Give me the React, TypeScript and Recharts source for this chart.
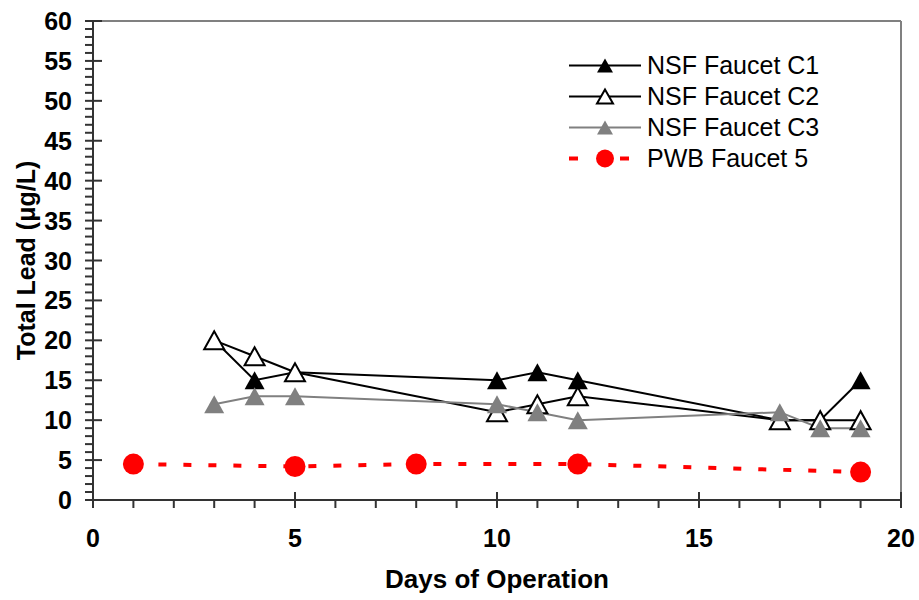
import React from "react";
import {
  LineChart,
  Line,
  XAxis,
  YAxis,
  Legend,
  ReferenceLine,
  Label,
} from "recharts";

// days of operation and total lead (ug/L)
const nsfDays = [3, 4, 5, 10, 11, 12, 17, 18, 19];
const nsfC1 = [20, 15, 16, 15, 16, 15, 10, 10, 15];
const nsfC2 = [20, 18, 16, 11, 12, 13, 10, 10, 10];
const nsfC3 = [12, 13, 13, 12, 11, 10, 11, 9, 9];
const pwbDays = [1, 5, 8, 12, 19];
const pwb5 = [4.5, 4.2, 4.5, 4.5, 3.5];

const xTicks = Array.from({ length: 21 }, (_, i) => i);
const yTicks = Array.from({ length: 61 }, (_, i) => i);

const FONT = "'Liberation Sans', Arial, sans-serif";
const AXIS = "#333";

const toPoints = (xs: number[], ys: number[]) =>
  xs.map((x, i) => ({ x, y: ys[i] }));

const series = [
  { name: "NSF Faucet C1", data: toPoints(nsfDays, nsfC1), stroke: "#000", fill: "#000", mark: "tri" },
  { name: "NSF Faucet C2", data: toPoints(nsfDays, nsfC2), stroke: "#000", fill: "#fff", mark: "tri" },
  { name: "NSF Faucet C3", data: toPoints(nsfDays, nsfC3), stroke: "#808080", fill: "#808080", mark: "tri" },
  { name: "PWB Faucet 5", data: toPoints(pwbDays, pwb5), stroke: "#ff0000", fill: "#ff0000", mark: "dot" },
];

const triangle = (cx: number, cy: number, fill: string, outline: boolean, s = 10) => (
  <polygon
    points={`${cx},${cy - s + 1} ${cx - s},${cy + s - 1} ${cx + s},${cy + s - 1}`}
    fill={fill}
    stroke={outline ? "#000" : "none"}
    strokeWidth={2}
    strokeLinejoin="miter"
  />
);

const XTick = (props: any) => {
  const { x, y, payload } = props;
  const major = payload.value % 5 === 0;
  return (
    <g>
      <line x1={x} x2={x} y1={major ? y - 8 : y} y2={y + 8} stroke={AXIS} strokeWidth={2} />
      {major && (
        <text x={x} y={y + 47} textAnchor="middle" fontFamily={FONT} fontWeight="bold" fontSize={25} fill="#000">
          {payload.value}
        </text>
      )}
    </g>
  );
};

const YTick = (props: any) => {
  const { x, y, payload } = props;
  const major = payload.value % 5 === 0;
  return (
    <g>
      <line x1={x - 8} x2={major ? x + 9 : x} y1={y} y2={y} stroke={AXIS} strokeWidth={2} />
      {major && (
        <text x={x - 21} y={y} dy="0.36em" textAnchor="end" fontFamily={FONT} fontWeight="bold" fontSize={25} fill="#000">
          {payload.value}
        </text>
      )}
    </g>
  );
};

const LegendBox = () => (
  <div style={{ fontFamily: FONT, fontSize: 25, color: "#000" }}>
    {series.map((s) => (
      <div key={s.name} style={{ display: "flex", alignItems: "center", height: 31 }}>
        <svg width={82} height={31}>
          {s.mark === "dot" ? (
            <g>
              <line x1={4} x2={13} y1={15.5} y2={15.5} stroke={s.stroke} strokeWidth={4} />
              <line x1={55} x2={64} y1={15.5} y2={15.5} stroke={s.stroke} strokeWidth={4} />
              <circle cx={40} cy={15.5} r={9} fill={s.fill} />
            </g>
          ) : (
            <g>
              <line x1={4} x2={76} y1={15.5} y2={15.5} stroke={s.stroke} strokeWidth={2} />
              {triangle(40, 15.5, s.fill, s.fill === "#fff", 8)}
            </g>
          )}
        </svg>
        <span style={{ lineHeight: "31px" }}>{s.name}</span>
      </div>
    ))}
  </div>
);

const YTitle = (props: any) => {
  const vb = props.viewBox || { x: 0, y: 21, width: 93, height: 479 };
  const cx = vb.x + 26;
  const cy = vb.y + vb.height / 2;
  return (
    <text
      x={cx}
      y={cy}
      transform={`rotate(-90, ${cx}, ${cy})`}
      textAnchor="middle"
      dy="0.36em"
      fontFamily={FONT}
      fontWeight="bold"
      fontSize={25}
      fill="#000"
    >
      Total Lead (μg/L)
    </text>
  );
};

const App = () => {
  return (
    <div style={{ position: "absolute", left: 0, top: 0, background: "#fff" }}>
      <LineChart width={919} height={600} margin={{ top: 21, right: 18, left: 0, bottom: 0 }}>
        <XAxis
          dataKey="x"
          type="number"
          domain={[0, 20]}
          ticks={xTicks}
          interval={0}
          height={100}
          tickSize={0}
          tickMargin={0}
          tick={<XTick />}
          tickLine={false}
          axisLine={{ stroke: AXIS, strokeWidth: 2 }}
          allowDuplicatedCategory={false}
        >
          <Label
            value="Days of Operation"
            position="insideBottom"
            offset={12}
            style={{ fontFamily: FONT, fontWeight: "bold", fontSize: 26, fill: "#000" }}
          />
        </XAxis>
        <YAxis
          type="number"
          domain={[0, 60]}
          ticks={yTicks}
          interval={0}
          width={93}
          tickSize={0}
          tickMargin={0}
          tick={<YTick />}
          tickLine={false}
          axisLine={{ stroke: AXIS, strokeWidth: 2 }}
        >
          <Label content={<YTitle />} />
        </YAxis>
        <ReferenceLine y={60} stroke="#808080" strokeWidth={2} />
        <ReferenceLine x={20} stroke="#808080" strokeWidth={2} />
        <Legend
          layout="vertical"
          align="center"
          verticalAlign="middle"
          content={<LegendBox />}
          wrapperStyle={{ left: 565, top: 50, width: 320 }}
        />
        {series.map((s) => (
          <Line
            key={s.name}
            name={s.name}
            data={s.data}
            dataKey="y"
            stroke={s.stroke}
            strokeWidth={s.mark === "dot" ? 4 : 2}
            strokeDasharray={s.mark === "dot" ? "8 17" : undefined}
            isAnimationActive={false}
            activeDot={false}
            dot={(p: any) =>
              s.mark === "dot" ? (
                <circle key={p.index} cx={p.cx} cy={p.cy} r={10.5} fill={s.fill} />
              ) : (
                <g key={p.index}>{triangle(p.cx, p.cy, s.fill, s.fill === "#fff")}</g>
              )
            }
          />
        ))}
      </LineChart>
    </div>
  );
};

export default App;
